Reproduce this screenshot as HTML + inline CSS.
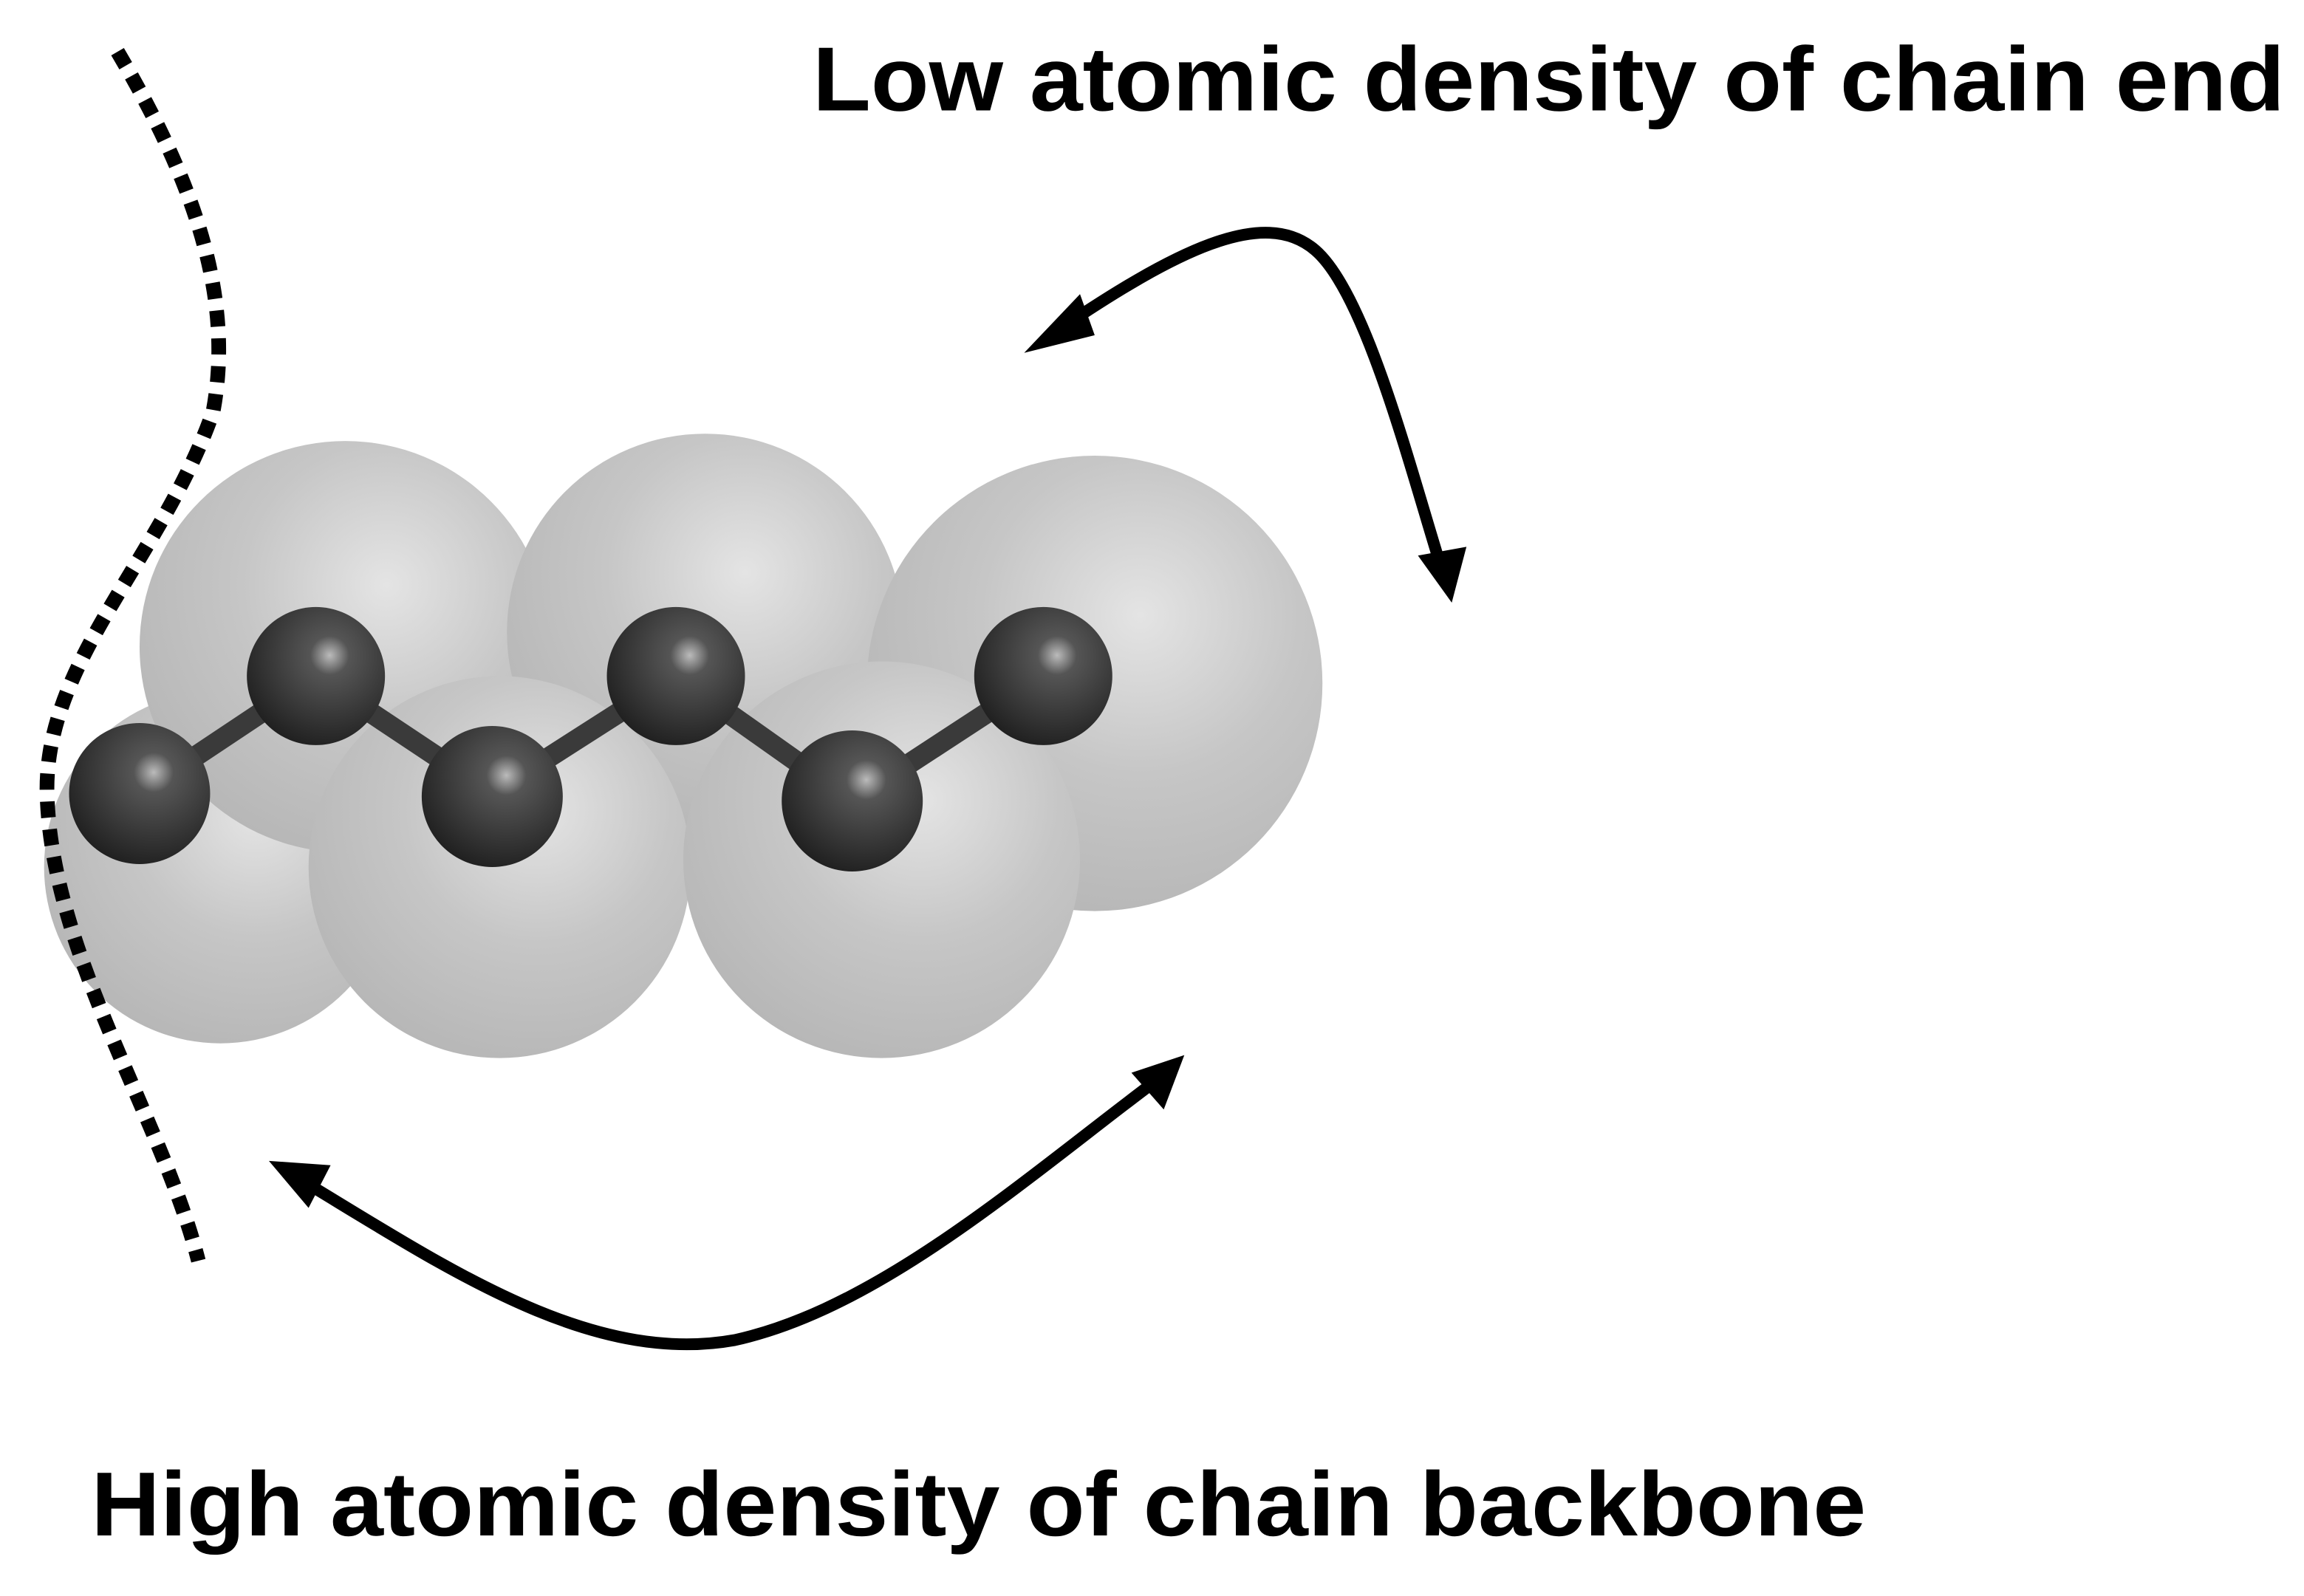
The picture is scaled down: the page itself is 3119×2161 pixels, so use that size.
<!DOCTYPE html>
<html><head><meta charset="utf-8"><style>
html,body{margin:0;padding:0;background:#fff;}
svg{display:block;}
</style></head><body>
<svg width="3119" height="2161" viewBox="0 0 1568 1086" xmlns="http://www.w3.org/2000/svg">
<defs>
<radialGradient id="big" cx="0.6" cy="0.35" r="0.7">
<stop offset="0" stop-color="#e4e4e4"/><stop offset="0.5" stop-color="#c6c6c6"/><stop offset="1" stop-color="#b6b6b6"/>
</radialGradient>
<radialGradient id="ball" cx="0.6" cy="0.35" r="0.7">
<stop offset="0" stop-color="#bbb"/><stop offset="0.2" stop-color="#555"/><stop offset="1" stop-color="#1e1e1e"/>
</radialGradient>
</defs>
<rect width="1568" height="1086" fill="#fff"/>
<g fill="url(#big)">
<circle cx="150" cy="590" r="120"/>
<circle cx="235" cy="440" r="140"/>
<circle cx="480" cy="430" r="135"/>
<circle cx="745" cy="465" r="155"/>
<circle cx="340" cy="590" r="130"/>
<circle cx="600" cy="585" r="135"/>
</g>
<polyline points="95,540 215,460 335,540 460,460 580,545 710,460" fill="none" stroke="#3a3a3a" stroke-width="14"/>
<g fill="url(#ball)">
<circle cx="95" cy="540" r="48"/>
<circle cx="215" cy="460" r="47"/>
<circle cx="335" cy="542" r="48"/>
<circle cx="460" cy="460" r="47"/>
<circle cx="580" cy="545" r="48"/>
<circle cx="710" cy="460" r="47"/>
</g>
<path d="M80,35 C130,120 160,200 145,280 C110,380 30,450 32,540 C35,650 110,760 135,858" fill="none" stroke="#000" stroke-width="10" stroke-dasharray="11,8"/>
<path d="M715,228 C800,170 860,140 895,170 C930,200 960,320 982,390" fill="none" stroke="#000" stroke-width="8"/>
<polygon points="697,240 735,200 745,228" fill="#000"/>
<polygon points="988,410 965,378 998,372" fill="#000"/>
<path d="M200,800 C300,860 400,930 500,912 C600,890 700,800 790,733" fill="none" stroke="#000" stroke-width="8"/>
<polygon points="183,790 225,793 210,822" fill="#000"/>
<polygon points="806,718 770,730 792,755" fill="#000"/>
<text x="553" y="75" font-family="Liberation Sans, sans-serif" font-weight="bold" font-size="62" textLength="1002" lengthAdjust="spacingAndGlyphs">Low atomic density of chain end</text>
<text x="62" y="1045" font-family="Liberation Sans, sans-serif" font-weight="bold" font-size="62" textLength="1208" lengthAdjust="spacingAndGlyphs">High atomic density of chain backbone</text>
</svg>
</body></html>
